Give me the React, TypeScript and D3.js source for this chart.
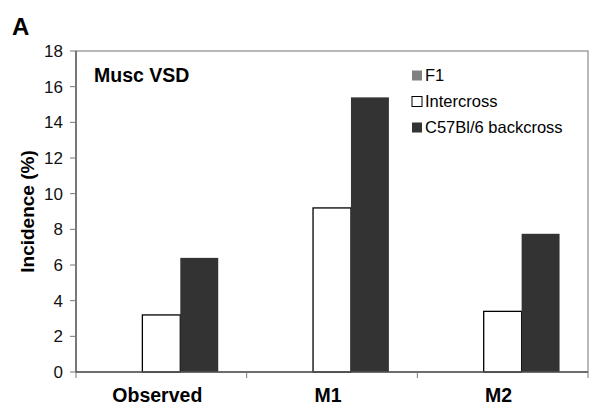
import React from "react";
import * as d3 from "d3";

const categories = ["Observed", "M1", "M2"];
const seriesNames = ["F1", "Intercross", "C57Bl/6 backcross"];
const f1Values = [0, 0, 0];
const intercrossValues = [3.2, 9.2, 3.4];
const backcrossValues = [6.4, 15.4, 7.75];
const yTicks = [0, 2, 4, 6, 8, 10, 12, 14, 16, 18];
const seriesColors = ["#808080", "#ffffff", "#333333"];

const W = 601;
const H = 416;
const m = { left: 76, right: 13, top: 51, bottom: 44 };
const FONT = "'Liberation Sans', Arial, sans-serif";

export default function App() {
  const x0 = d3
    .scaleBand<string>()
    .domain(categories)
    .range([m.left, W - m.right])
    .paddingInner(0)
    .paddingOuter(0);
  const bw = x0.bandwidth();
  const barW = bw / 4.5;
  const x1 = d3
    .scaleBand<string>()
    .domain(seriesNames)
    .range([barW * 0.75, barW * 3.75])
    .padding(0);
  const y = d3.scaleLinear().domain([0, 18]).range([H - m.bottom, m.top]);
  const seriesValues = [f1Values, intercrossValues, backcrossValues];
  const y0 = y(0);

  return (
    <svg
      width={W}
      height={H}
      style={{ position: "absolute", left: 0, top: 0, background: "#fff" }}
      fontFamily={FONT}
    >
      <rect x={0} y={0} width={W} height={H} fill="#fff" />
      {/* plot border */}
      <rect
        x={m.left}
        y={m.top}
        width={W - m.right - m.left}
        height={y0 - m.top}
        fill="none"
        stroke="#8a8a8a"
        strokeWidth={1.2}
      />
      {/* bars */}
      {categories.map((c, ci) =>
        seriesNames.map((s, si) => {
          const v = seriesValues[si][ci];
          if (v <= 0) return null;
          const bx = (x0(c) as number) + (x1(s) as number);
          return (
            <rect
              key={c + s}
              x={bx}
              y={y(v)}
              width={barW}
              height={y0 - y(v)}
              fill={seriesColors[si]}
              stroke={si === 1 ? "#000" : "none"}
              strokeWidth={si === 1 ? 1.3 : 0}
            />
          );
        })
      )}
      {/* y axis */}
      <line x1={m.left} x2={m.left} y1={m.top} y2={y0} stroke="#555" strokeWidth={1.3} />
      {yTicks.map((t) => (
        <g key={t}>
          <line x1={m.left - 6} x2={m.left} y1={y(t)} y2={y(t)} stroke="#777" strokeWidth={1} />
          <text
            x={m.left - 13}
            y={y(t)}
            dy="0.36em"
            textAnchor="end"
            fontSize={17}
            fill="#111"
          >
            {t}
          </text>
        </g>
      ))}
      {/* x axis */}
      <line x1={m.left} x2={W - m.right} y1={y0} y2={y0} stroke="#555" strokeWidth={1.3} />
      {[...categories.map((c) => x0(c) as number), W - m.right].map((xv, i) => (
        <line key={i} x1={xv} x2={xv} y1={y0} y2={y0 + 6} stroke="#777" strokeWidth={1} />
      ))}
      {categories.map((c) => (
        <text
          key={c}
          x={(x0(c) as number) + bw / 2 - 4}
          y={401.5}
          textAnchor="middle"
          fontSize={19.5}
          fontWeight="bold"
          fill="#000"
        >
          {c}
        </text>
      ))}
      {/* y title */}
      <text
        transform={`translate(33.5, ${(m.top + y0) / 2}) rotate(-90)`}
        textAnchor="middle"
        fontSize={19}
        fontWeight="bold"
        fill="#000"
      >
        Incidence (%)
      </text>
      {/* panel label */}
      <text x={12} y={35} fontSize={24} fontWeight="bold" fill="#000">
        A
      </text>
      {/* inner title */}
      <text x={94} y={82} fontSize={19.5} fontWeight="bold" fill="#000">
        Musc VSD
      </text>
      {/* legend */}
      {seriesNames.map((s, i) => (
        <g key={s} transform={`translate(412, ${75 + i * 26})`}>
          <rect
            x={0}
            y={-4.5}
            width={10}
            height={10}
            fill={seriesColors[i]}
            stroke={i === 1 ? "#000" : "none"}
            strokeWidth={1}
          />
          <text x={13} y={0} dy="0.36em" fontSize={16.5} fill="#000">
            {s}
          </text>
        </g>
      ))}
    </svg>
  );
}
